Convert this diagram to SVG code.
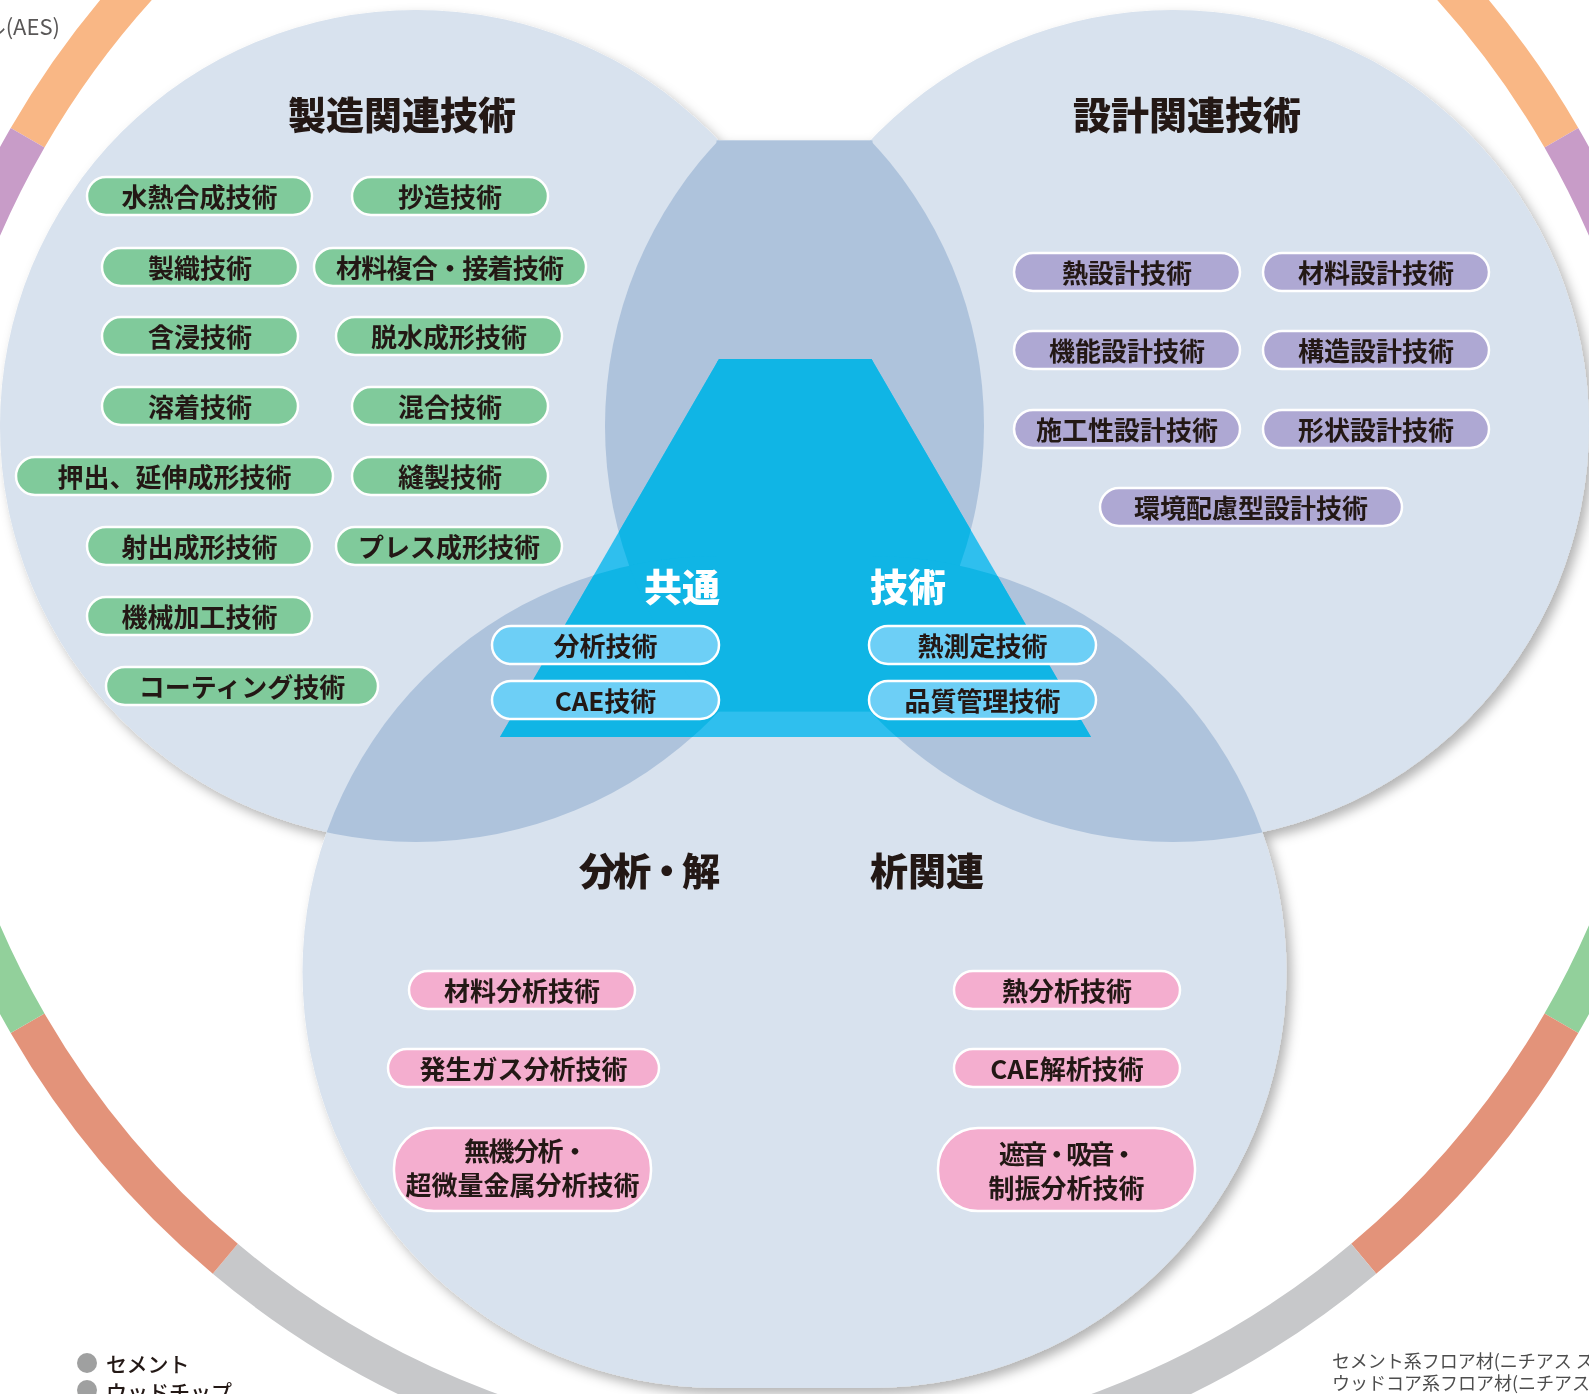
<svg xmlns="http://www.w3.org/2000/svg" xmlns:xlink="http://www.w3.org/1999/xlink" width="1589" height="1394" viewBox="0 0 1589 1394">
<style>
.jp{font-family:"Noto Sans CJK JP","Noto Sans",sans-serif}
.title{font-size:38px;font-weight:900;fill:#231815;dominant-baseline:central}
.pt{font-size:26px;font-weight:700;fill:#231815;text-anchor:middle;dominant-baseline:central}
.wt{font-size:38px;font-weight:900;fill:#ffffff;dominant-baseline:central}
.pg{fill:#80ca9b;stroke:#fff;stroke-width:2.5}
.pp{fill:#aea8d3;stroke:#fff;stroke-width:2.5}
.pc{fill:#6dcff6;stroke:#fff;stroke-width:2.5}
.pk{fill:#f4aecf;stroke:#fff;stroke-width:2.5}
.ring{fill:none;stroke-width:39}
.note{font-size:18px;fill:#4d4d4d;dominant-baseline:central}
.leg{font-size:21px;font-weight:500;fill:#231815;dominant-baseline:central}
</style>
<defs>
<clipPath id="cL"><rect x="-20" y="-20" width="738.5" height="1440"/></clipPath>
<clipPath id="cR"><rect x="870.5" y="-20" width="740" height="1440"/></clipPath>
<clipPath id="cBL"><circle cx="1021" cy="426" r="416"/></clipPath>
<clipPath id="cCL"><circle cx="718.5" cy="972" r="416"/></clipPath>
<clipPath id="cAR"><circle cx="568" cy="426" r="416"/></clipPath>
<clipPath id="cCR"><circle cx="870.5" cy="972" r="416"/></clipPath>
<clipPath id="cT"><polygon points="719,359 871.5,359 1091,737 500,737"/></clipPath>
<filter id="sh" x="-10%" y="-10%" width="120%" height="120%">
<feDropShadow dx="5" dy="6" stdDeviation="6" flood-color="#000" flood-opacity="0.3"/>
</filter>
<g id="darkShapes">
<g clip-path="url(#cL)">
<circle cx="416" cy="426" r="416" clip-path="url(#cBL)"/>
<circle cx="416" cy="426" r="416" clip-path="url(#cCL)"/>
<circle cx="1021" cy="426" r="416" clip-path="url(#cCL)"/>
</g>
<g clip-path="url(#cR)">
<circle cx="1173" cy="426" r="416" clip-path="url(#cAR)"/>
<circle cx="568" cy="426" r="416" clip-path="url(#cCR)"/>
<circle cx="1173" cy="426" r="416" clip-path="url(#cCR)"/>
</g>
<rect x="716.5" y="140.4" width="156" height="571.2"/>
</g>
</defs>

<g id="outer-ring">
<path class="ring" stroke="#f9b785" d="M27.6 137.75 A885.5 885.5 0 0 1 1561.4 137.75"/>
<path class="ring" stroke="#c89cc8" d="M1561.4 137.75 A885.5 885.5 0 0 1 1680 580.5"/>
<path class="ring" stroke="#92d09b" d="M1680 580.5 A885.5 885.5 0 0 1 1561.4 1023.25"/>
<path class="ring" stroke="#e3937a" d="M1561.4 1023.25 A885.5 885.5 0 0 1 1363.7 1258.8"/>
<path class="ring" stroke="#c7c8ca" d="M1363.7 1258.8 A885.5 885.5 0 0 1 225.3 1258.8"/>
<path class="ring" stroke="#e3937a" d="M225.3 1258.8 A885.5 885.5 0 0 1 27.6 1023.25"/>
<path class="ring" stroke="#92d09b" d="M27.6 1023.25 A885.5 885.5 0 0 1 -91 580.5"/>
<path class="ring" stroke="#c89cc8" d="M-91 580.5 A885.5 885.5 0 0 1 27.6 137.75"/>
</g>

<g id="venn-base" filter="url(#sh)" fill="#d8e2ee">
<g clip-path="url(#cL)">
<circle cx="416" cy="426" r="416"/>
<circle cx="1021" cy="426" r="416"/>
<circle cx="718.5" cy="972" r="416"/>
</g>
<g clip-path="url(#cR)">
<circle cx="568" cy="426" r="416"/>
<circle cx="1173" cy="426" r="416"/>
<circle cx="870.5" cy="972" r="416"/>
</g>
<rect x="716.5" y="140.4" width="156" height="1247.6"/>
</g>
<g id="venn-overlaps">
<use xlink:href="#darkShapes" fill="#aec3dc"/>
</g>
<g id="common-core">
<polygon points="719,359 871.5,359 1091,737 500,737" fill="#2fbfee"/>
<g clip-path="url(#cT)"><use xlink:href="#darkShapes" fill="#10b5e5"/></g>
</g>

<g id="connectors"></g>

<g class="jp">
<g id="title-manufacturing"><text class="title" x="402" y="112" text-anchor="middle">製造関連技術</text></g>
<g id="title-design"><text class="title" x="1187" y="112" text-anchor="middle">設計関連技術</text></g>
<g id="title-common"><text class="wt" x="720" y="584" text-anchor="end">共通</text><text class="wt" x="870" y="584">技術</text></g>
<g id="title-analysis"><text class="title" x="720" y="868" text-anchor="end" textLength="141" lengthAdjust="spacing">分析・解</text><text class="title" x="870" y="868">析関連</text></g>

<g id="m1"><rect class="pg" x="87" y="177" width="225" height="38" rx="19"/><text class="pt" x="199.5" y="195">水熱合成技術</text></g>
<g id="m2"><rect class="pg" x="352" y="177" width="196" height="38" rx="19"/><text class="pt" x="450" y="195">抄造技術</text></g>
<g id="m3"><rect class="pg" x="102" y="248" width="196" height="38" rx="19"/><text class="pt" x="200" y="266">製織技術</text></g>
<g id="m4"><rect class="pg" x="314" y="248" width="272" height="38" rx="19"/><text class="pt" x="450" y="266" textLength="228" lengthAdjust="spacing">材料複合・接着技術</text></g>
<g id="m5"><rect class="pg" x="102" y="317" width="196" height="38" rx="19"/><text class="pt" x="200" y="335">含浸技術</text></g>
<g id="m6"><rect class="pg" x="336" y="317" width="226" height="38" rx="19"/><text class="pt" x="449" y="335">脱水成形技術</text></g>
<g id="m7"><rect class="pg" x="102" y="387" width="196" height="38" rx="19"/><text class="pt" x="200" y="405">溶着技術</text></g>
<g id="m8"><rect class="pg" x="352" y="387" width="196" height="38" rx="19"/><text class="pt" x="450" y="405">混合技術</text></g>
<g id="m9"><rect class="pg" x="16" y="457" width="317" height="38" rx="19"/><text class="pt" x="174.5" y="475">押出、延伸成形技術</text></g>
<g id="m10"><rect class="pg" x="352" y="457" width="196" height="38" rx="19"/><text class="pt" x="450" y="475">縫製技術</text></g>
<g id="m11"><rect class="pg" x="87" y="527" width="225" height="38" rx="19"/><text class="pt" x="199.5" y="545">射出成形技術</text></g>
<g id="m12"><rect class="pg" x="336" y="527" width="226" height="38" rx="19"/><text class="pt" x="449" y="545">プレス成形技術</text></g>
<g id="m13"><rect class="pg" x="87" y="597" width="225" height="38" rx="19"/><text class="pt" x="199.5" y="615">機械加工技術</text></g>
<g id="m14"><rect class="pg" x="106" y="667" width="272" height="38" rx="19"/><text class="pt" x="242" y="685">コーティング技術</text></g>

<g id="d1"><rect class="pp" x="1014" y="253" width="226" height="38" rx="19"/><text class="pt" x="1127" y="271">熱設計技術</text></g>
<g id="d2"><rect class="pp" x="1263" y="253" width="226" height="38" rx="19"/><text class="pt" x="1376" y="271">材料設計技術</text></g>
<g id="d3"><rect class="pp" x="1014" y="331" width="226" height="38" rx="19"/><text class="pt" x="1127" y="349">機能設計技術</text></g>
<g id="d4"><rect class="pp" x="1263" y="331" width="226" height="38" rx="19"/><text class="pt" x="1376" y="349">構造設計技術</text></g>
<g id="d5"><rect class="pp" x="1014" y="410" width="226" height="38" rx="19"/><text class="pt" x="1127" y="428">施工性設計技術</text></g>
<g id="d6"><rect class="pp" x="1263" y="410" width="226" height="38" rx="19"/><text class="pt" x="1376" y="428">形状設計技術</text></g>
<g id="d7"><rect class="pp" x="1100" y="488" width="302" height="38" rx="19"/><text class="pt" x="1251" y="506">環境配慮型設計技術</text></g>

<g id="c1"><rect class="pc" x="492" y="626" width="227" height="38" rx="19"/><text class="pt" x="605.5" y="644">分析技術</text></g>
<g id="c2"><rect class="pc" x="492" y="681" width="227" height="38" rx="19"/><text class="pt" x="605.5" y="699">CAE技術</text></g>
<g id="c3"><rect class="pc" x="869" y="626" width="227" height="38" rx="19"/><text class="pt" x="982.5" y="644">熱測定技術</text></g>
<g id="c4"><rect class="pc" x="869" y="681" width="227" height="38" rx="19"/><text class="pt" x="982.5" y="699">品質管理技術</text></g>

<g id="a1"><rect class="pk" x="409" y="971" width="226" height="38" rx="19"/><text class="pt" x="522" y="989">材料分析技術</text></g>
<g id="a2"><rect class="pk" x="954" y="971" width="226" height="38" rx="19"/><text class="pt" x="1067" y="989">熱分析技術</text></g>
<g id="a3"><rect class="pk" x="388" y="1049" width="271" height="38" rx="19"/><text class="pt" x="523.5" y="1067">発生ガス分析技術</text></g>
<g id="a4"><rect class="pk" x="954" y="1049" width="226" height="38" rx="19"/><text class="pt" x="1067" y="1067">CAE解析技術</text></g>
<g id="a5"><rect class="pk" x="394" y="1128" width="257" height="83" rx="40"/><text class="pt" x="526" y="1149" textLength="124" lengthAdjust="spacing">無機分析・</text><text class="pt" x="522.5" y="1183">超微量金属分析技術</text></g>
<g id="a6"><rect class="pk" x="938" y="1128" width="257" height="83" rx="40"/><text class="pt" x="1068" y="1152" textLength="138" lengthAdjust="spacing">遮音・吸音・</text><text class="pt" x="1066.5" y="1186">制振分析技術</text></g>

<g id="legend">
<circle cx="87" cy="1363" r="10" fill="#9fa0a0"/><text class="leg" x="106" y="1363">セメント</text>
<circle cx="87" cy="1390" r="10" fill="#9fa0a0"/><text class="leg" x="106" y="1391">ウッドチップ</text>
</g>
<g id="notes">
<text x="60" y="35" text-anchor="end" style="font-size:22px;fill:#595757">ル(AES)</text>
<text class="note" x="1332" y="1360">セメント系フロア材(ニチアス ス</text>
<text class="note" x="1332" y="1382">ウッドコア系フロア材(ニチアス</text>
</g>
</g>
</svg>
